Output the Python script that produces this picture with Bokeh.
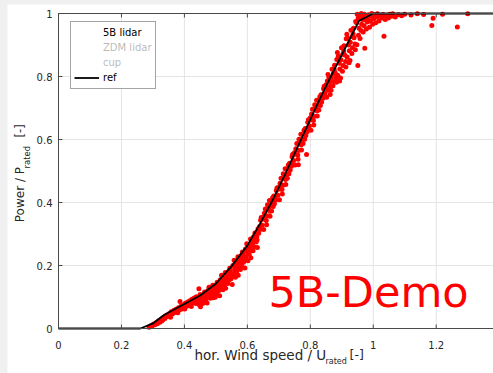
import math
from bokeh.plotting import figure
from bokeh.models import Legend, LegendItem, Range1d
from bokeh.layouts import column
from bokeh.embed import file_html
from bokeh.resources import INLINE
from bokeh.core.properties import value

# ---------------- data ----------------
x_ticks = [0, 0.2, 0.4, 0.6, 0.8, 1, 1.2]
x_tick_labels = ["0", "0.2", "0.4", "0.6", "0.8", "1", "1.2"]
y_ticks = [0, 0.2, 0.4, 0.6, 0.8, 1]
y_tick_labels = ["0", "0.2", "0.4", "0.6", "0.8", "1"]

x_max = 1.382          # right end of the visible axis
y_max = 1.0

ref_speed = [0.0, 0.26, 0.30, 0.335, 0.40, 0.45, 0.50, 0.55, 0.60, 0.64, 0.68,
             0.72, 0.77, 0.83, 0.865, 0.955, 1.00, 1.40]
ref_power = [0.0, 0.0, 0.016, 0.043, 0.078, 0.105, 0.142, 0.198, 0.263, 0.332, 0.407,
             0.489, 0.599, 0.728, 0.80, 0.977, 1.0, 1.0]

# 5B lidar, low wind speeds
low_speed = [
    0.288, 0.293, 0.297, 0.302, 0.306, 0.311, 0.314, 0.318, 0.322, 0.327,
    0.331, 0.335, 0.338, 0.343, 0.347, 0.351, 0.354, 0.358, 0.362, 0.366,
    0.369, 0.373, 0.377, 0.381, 0.384, 0.386, 0.389, 0.392, 0.396, 0.399,
    0.403, 0.406, 0.410, 0.413, 0.417, 0.420, 0.424, 0.427, 0.431, 0.434,
    0.438, 0.441, 0.444, 0.446, 0.356, 0.379, 0.401, 0.422, 0.436, 0.328,
]
low_power = [
    0.004, 0.009, 0.006, 0.014, 0.012, 0.019, 0.015, 0.025, 0.020, 0.030,
    0.027, 0.036, 0.032, 0.042, 0.038, 0.047, 0.041, 0.053, 0.046, 0.057,
    0.051, 0.061, 0.055, 0.066, 0.059, 0.086, 0.071, 0.062, 0.075, 0.066,
    0.080, 0.070, 0.084, 0.073, 0.088, 0.077, 0.093, 0.082, 0.097, 0.086,
    0.101, 0.090, 0.096, 0.126, 0.036, 0.050, 0.062, 0.070, 0.079, 0.024,
]

# 5B lidar, partial load
part_speed = [
    0.446, 0.448, 0.450, 0.452, 0.454, 0.451,
    0.456, 0.458, 0.460, 0.462, 0.464, 0.461,
    0.466, 0.468, 0.470, 0.472, 0.474, 0.471,
    0.476, 0.478, 0.480, 0.482, 0.484, 0.481,
    0.486, 0.488, 0.490, 0.492, 0.494, 0.491,
    0.496, 0.498, 0.500, 0.502, 0.504, 0.501,
    0.506, 0.508, 0.510, 0.512, 0.514, 0.511,
    0.516, 0.518, 0.520, 0.522, 0.524, 0.521,
    0.526, 0.528, 0.530, 0.532, 0.534, 0.531,
    0.536, 0.538, 0.540, 0.542, 0.544, 0.541,
    0.546, 0.548, 0.550, 0.552, 0.554, 0.551,
    0.556, 0.558, 0.560, 0.562, 0.564, 0.561,
    0.566, 0.568, 0.570, 0.572, 0.574, 0.571,
    0.576, 0.578, 0.580, 0.582, 0.584, 0.581,
    0.586, 0.588, 0.590, 0.592, 0.594, 0.591,
    0.596, 0.598, 0.600, 0.602, 0.604, 0.601,
    0.606, 0.608, 0.610, 0.612, 0.614, 0.611,
    0.616, 0.618, 0.620, 0.622, 0.624, 0.621,
    0.626, 0.628, 0.630, 0.632, 0.634, 0.631,
]
part_power = [
    0.076, 0.092, 0.108, 0.084, 0.098, 0.069,
    0.094, 0.079, 0.108, 0.087, 0.116, 0.102,
    0.111, 0.093, 0.103, 0.081, 0.120, 0.097,
    0.104, 0.131, 0.115, 0.096, 0.124, 0.110,
    0.105, 0.121, 0.137, 0.113, 0.127, 0.098,
    0.118, 0.099, 0.137, 0.110, 0.147, 0.128,
    0.143, 0.119, 0.133, 0.104, 0.155, 0.124,
    0.133, 0.169, 0.149, 0.123, 0.161, 0.142,
    0.137, 0.158, 0.178, 0.148, 0.166, 0.128,
    0.162, 0.143, 0.181, 0.154, 0.191, 0.172,
    0.186, 0.158, 0.174, 0.140, 0.200, 0.164,
    0.175, 0.217, 0.193, 0.163, 0.207, 0.185,
    0.179, 0.204, 0.228, 0.192, 0.214, 0.169,
    0.209, 0.187, 0.231, 0.199, 0.243, 0.221,
    0.238, 0.210, 0.226, 0.192, 0.252, 0.216,
    0.227, 0.269, 0.245, 0.215, 0.259, 0.237,
    0.235, 0.260, 0.284, 0.248, 0.270, 0.225,
    0.269, 0.247, 0.291, 0.259, 0.303, 0.281,
    0.303, 0.275, 0.291, 0.257, 0.317, 0.281,
]

# 5B lidar, steep part of the curve
mid_speed = [
    0.636, 0.639, 0.642, 0.644, 0.640,
    0.647, 0.650, 0.652, 0.654, 0.651,
    0.657, 0.660, 0.663, 0.664, 0.661,
    0.667, 0.670, 0.672, 0.674, 0.671,
    0.677, 0.680, 0.682, 0.684, 0.681,
    0.686, 0.689, 0.692, 0.694, 0.690,
    0.697, 0.700, 0.702, 0.704, 0.701,
    0.707, 0.710, 0.713, 0.714, 0.711,
    0.717, 0.720, 0.722, 0.724, 0.721,
    0.727, 0.730, 0.732, 0.734, 0.731,
    0.736, 0.739, 0.742, 0.744, 0.740,
    0.747, 0.750, 0.752, 0.754, 0.751,
    0.757, 0.760, 0.763, 0.764, 0.761, 0.762,
    0.767, 0.770, 0.772, 0.774, 0.771,
    0.777, 0.780, 0.782, 0.784, 0.781,
    0.786, 0.789, 0.792, 0.794, 0.790, 0.788,
    0.797, 0.800, 0.802, 0.804, 0.801,
    0.807, 0.810, 0.813, 0.814, 0.811,
    0.817, 0.820, 0.822, 0.824, 0.821,
    0.827, 0.830, 0.832, 0.834, 0.831,
    0.836, 0.839, 0.842, 0.844, 0.840,
    0.847, 0.850, 0.852, 0.854, 0.851,
]
mid_power = [
    0.302, 0.324, 0.344, 0.352, 0.314,
    0.328, 0.354, 0.314, 0.366, 0.348,
    0.379, 0.343, 0.357, 0.393, 0.329,
    0.382, 0.406, 0.356, 0.390, 0.372,
    0.373, 0.415, 0.387, 0.421, 0.403,
    0.396, 0.418, 0.438, 0.446, 0.408,
    0.423, 0.449, 0.409, 0.461, 0.443,
    0.477, 0.441, 0.455, 0.491, 0.427,
    0.483, 0.507, 0.457, 0.491, 0.473,
    0.477, 0.519, 0.491, 0.525, 0.507,
    0.503, 0.525, 0.545, 0.553, 0.515,
    0.533, 0.559, 0.519, 0.571, 0.553,
    0.587, 0.551, 0.565, 0.601, 0.537, 0.520,
    0.593, 0.617, 0.567, 0.601, 0.583,
    0.587, 0.629, 0.601, 0.635, 0.617,
    0.613, 0.635, 0.655, 0.663, 0.625, 0.552,
    0.643, 0.669, 0.629, 0.681, 0.663,
    0.696, 0.660, 0.674, 0.710, 0.646,
    0.701, 0.725, 0.675, 0.709, 0.691,
    0.694, 0.736, 0.708, 0.742, 0.724,
    0.719, 0.741, 0.761, 0.769, 0.731,
    0.748, 0.774, 0.734, 0.786, 0.768,
]

# 5B lidar, transition to rated power and above
top_speed = [
    0.857, 0.862, 0.859, 0.864, 0.863, 0.856,
    0.867, 0.872, 0.869, 0.874, 0.873, 0.866,
    0.877, 0.882, 0.879, 0.884, 0.883, 0.876,
    0.887, 0.892, 0.889, 0.894, 0.893, 0.886,
    0.897, 0.902, 0.899, 0.904, 0.903, 0.896,
    0.907, 0.912, 0.909, 0.914, 0.913, 0.906,
    0.917, 0.922, 0.919, 0.924, 0.923, 0.916,
    0.927, 0.932, 0.929, 0.934, 0.933, 0.926,
    0.937, 0.942, 0.939, 0.944, 0.943, 0.936,
    0.951, 0.948, 0.953, 0.955, 0.947, 0.952, 0.949,
    0.958, 0.961, 0.963, 0.965, 0.957, 0.962,
    0.973, 0.968, 0.971, 0.975, 0.967, 0.972,
    0.978, 0.981, 0.983, 0.985,
    0.988, 0.991, 0.993, 0.995,
    0.998, 1.001, 1.003,
    1.008, 1.011, 1.013,
    1.018, 1.021,
    1.034, 1.028, 1.031,
    1.038, 1.041,
    1.048, 1.052,
    1.058, 1.062,
    1.070, 1.080, 1.090, 1.100, 1.120, 1.140, 1.160,
    1.186, 1.190, 1.220, 1.267, 1.300,
]
top_power = [
    0.756, 0.783, 0.798, 0.770, 0.743, 0.806,
    0.797, 0.771, 0.823, 0.784, 0.809, 0.756,
    0.836, 0.796, 0.812, 0.854, 0.782, 0.822,
    0.804, 0.842, 0.864, 0.824, 0.786, 0.876,
    0.853, 0.817, 0.891, 0.835, 0.871, 0.795,
    0.898, 0.848, 0.868, 0.920, 0.830, 0.880,
    0.862, 0.900, 0.922, 0.882, 0.844, 0.934,
    0.909, 0.873, 0.947, 0.891, 0.927, 0.851,
    0.953, 0.903, 0.923, 0.975, 0.885, 0.935,
    0.835, 0.901, 0.931, 0.953, 0.971, 0.986, 0.998,
    0.921, 0.946, 0.966, 0.981, 0.993, 1.000,
    0.890, 0.941, 0.961, 0.979, 0.991, 0.998,
    0.951, 0.973, 0.986, 0.996,
    0.956, 0.976, 0.991, 1.000,
    0.966, 0.983, 0.995,
    0.971, 0.989, 0.999,
    0.976, 0.991,
    0.928, 0.986, 0.997,
    0.981, 0.994,
    0.986, 0.998,
    0.991, 0.999,
    0.989, 0.996, 0.993, 0.998, 0.995, 0.999, 0.997,
    0.962, 0.985, 0.998, 0.957, 0.999,
]

lidar_speed = low_speed + part_speed + mid_speed + top_speed
lidar_power = low_power + part_power + mid_power + top_power

# ---------------- figure ----------------
FONT = "DejaVu Sans"
AX = "#4a4a4a"
TXT = "#262626"
GRID = "#e4e4e4"

# the plot frame fills the whole canvas; the axes are drawn on the data scale
SX = 314.77   # px per unit of wind speed
SY = 315.0    # px per unit of power
W, H = 486, 369
LEFT, BOTTOM = 51, 45

p = figure(width=W, height=H,
           x_range=Range1d(-LEFT / SX, -LEFT / SX + W / SX),
           y_range=Range1d(-BOTTOM / SY, -BOTTOM / SY + H / SY),
           output_backend="svg", toolbar_location=None,
           x_axis_location=None, y_axis_location=None,
           min_border=0, min_border_left=0, min_border_right=0,
           min_border_top=0, min_border_bottom=0,
           background_fill_color="white", border_fill_color="white",
           outline_line_color=None)
p.xgrid.visible = False
p.ygrid.visible = False
p.margin = (4, 0, 0, 7)

def wx(px):
    """window x pixel -> wind speed coordinate"""
    return (px - 58) / SX

def wy(py):
    """window y pixel -> power coordinate"""
    return (328 - py) / SY

n_x = len(x_ticks)
n_y = len(y_ticks)

# grid
p.segment(x0=x_ticks[1:], y0=[0] * (n_x - 1), x1=x_ticks[1:], y1=[y_max] * (n_x - 1),
          line_color=GRID, line_width=1)
p.segment(x0=[0] * (n_y - 2), y0=y_ticks[1:-1], x1=[x_max] * (n_y - 2), y1=y_ticks[1:-1],
          line_color=GRID, line_width=1)

# data
p.scatter(lidar_speed, lidar_power, marker="circle", size=5,
          fill_color="#ff0000", line_color=None)
r_ref = p.line(ref_speed, ref_power, line_color="black", line_width=1.8)

# axes box (left, bottom, top)
p.segment(x0=[0, 0, 0], y0=[0, 0, y_max], x1=[0, x_max, x_max], y1=[y_max, 0, y_max],
          line_color=AX, line_width=1)
# inward ticks
p.ray(x=x_ticks, y=[0] * n_x, length=4, length_units="screen", angle=math.pi / 2,
      line_color=AX, line_width=1)
p.ray(x=x_ticks, y=[y_max] * n_x, length=4, length_units="screen", angle=-math.pi / 2,
      line_color=AX, line_width=1)
p.ray(x=[0] * n_y, y=y_ticks, length=4, length_units="screen", angle=0,
      line_color=AX, line_width=1)

# tick labels
p.text(x=x_ticks, y=[0] * n_x, text=x_tick_labels, y_offset=16.5,
       text_align="center", text_baseline="alphabetic",
       text_font=value(FONT), text_font_size="10px", text_color=TXT)
p.text(x=[0] * n_y, y=y_ticks, text=y_tick_labels, x_offset=-6,
       text_align="right", text_baseline="middle",
       text_font=value(FONT), text_font_size="10px", text_color=TXT)

# axis titles with subscripts
p.text(x=[wx(194)], y=[wy(354)], text=["hor. Wind speed / U"],
       text_align="left", text_baseline="alphabetic",
       text_font=value(FONT), text_font_size="13.5px", text_color=TXT)
p.text(x=[wx(325)], y=[wy(360.5)], text=["rated"],
       text_align="left", text_baseline="alphabetic",
       text_font=value(FONT), text_font_size="8px", text_color=TXT)
p.text(x=[wx(349)], y=[wy(354)], text=["[-]"],
       text_align="left", text_baseline="alphabetic",
       text_font=value(FONT), text_font_size="12.5px", text_color=TXT)

p.text(x=[wx(19)], y=[wy(221.7)], text=["Power / P"], angle=math.pi / 2,
       text_align="left", text_baseline="alphabetic",
       text_font=value(FONT), text_font_size="12px", text_color=TXT)
p.text(x=[wx(26)], y=[wy(168)], text=["rated"], angle=math.pi / 2,
       text_align="left", text_baseline="alphabetic",
       text_font=value(FONT), text_font_size="8.5px", text_color=TXT)
p.text(x=[wx(19)], y=[wy(137)], text=["[-]"], angle=math.pi / 2,
       text_align="left", text_baseline="alphabetic",
       text_font=value(FONT), text_font_size="11.5px", text_color=TXT)

# watermark
p.text(x=[wx(268)], y=[wy(291)], text=["5B-Demo"],
       text_align="left", text_baseline="alphabetic",
       text_font=value(FONT), text_font_size="43px", text_color="#ff0000")

# legend
leg_5b = p.scatter([], [], marker="dot", size=10, line_color="#ff0000", fill_color="#ff0000")
leg_zdm = p.scatter([], [], marker="dot", size=10, line_color="#00c000", fill_color="#00c000")
leg_cup = p.scatter([], [], marker="dot", size=10, line_color="#808080", fill_color="#808080")
leg_zdm.visible = False
leg_cup.visible = False

legend = Legend(items=[
    LegendItem(label="5B lidar", renderers=[leg_5b]),
    LegendItem(label="ZDM lidar", renderers=[leg_zdm]),
    LegendItem(label="cup", renderers=[leg_cup]),
    LegendItem(label="ref", renderers=[r_ref]),
], location=(63, 284))
legend.click_policy = "hide"
legend.label_text_font = FONT
legend.label_text_font_size = "10px"
legend.label_text_color = "black"
legend.glyph_width = 25
legend.glyph_height = 15
legend.label_height = 15
legend.label_standoff = 4
legend.padding = 3
legend.spacing = 0
legend.margin = 0
legend.border_line_color = AX
legend.border_line_width = 1
legend.background_fill_color = "white"
legend.background_fill_alpha = 1
legend.inactive_fill_alpha = 0.72
p.add_layout(legend)

layout = column(p, styles={"background-color": "#f0f0f0"})

open("out.html", "w").write(file_html(layout, INLINE))
